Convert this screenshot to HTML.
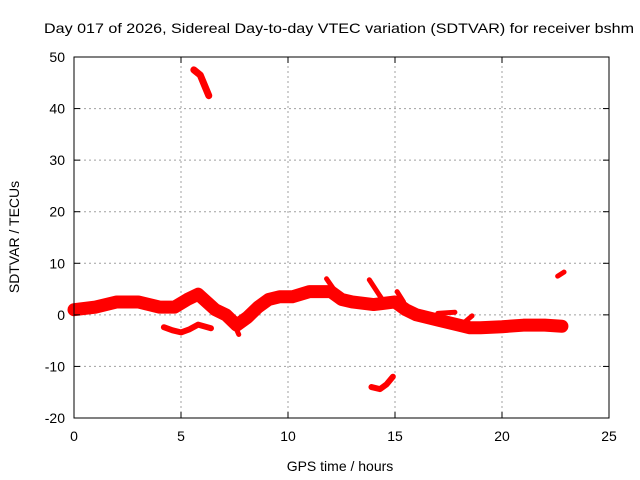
<!DOCTYPE html>
<html><head><meta charset="utf-8"><style>
html,body{margin:0;padding:0;background:#fff;}
svg{display:block;font-family:"Liberation Sans",sans-serif;}
</style></head><body>
<svg id="chart" width="640" height="480">
<rect width="640" height="480" fill="#fff"/>
<g id="grid"></g><g id="series"></g><g id="axes"></g>
<text x="44" y="33" font-size="14" textLength="590" lengthAdjust="spacingAndGlyphs">Day 017 of 2026, Sidereal Day-to-day VTEC variation (SDTVAR) for receiver bshm</text>
<text x="340" y="471" font-size="14" text-anchor="middle">GPS time / hours</text>
<text transform="translate(19,237) rotate(-90)" font-size="14" text-anchor="middle">SDTVAR / TECUs</text>
</svg>
<script>
const xTicks=[0,5,10,15,20,25];
const yTicks=[-20,-10,0,10,20,30,40,50];
const mainTimes=[0,1,2,3,4,4.7,5.3,5.8,6.2,6.6,7.1,7.6,8.1,8.6,9.1,9.6,10.2,11,12,12.5,13,14,15,15.5,16,17,18,18.5,19,20,21,22,22.8];
const mainValues=[1,1.5,2.5,2.5,1.5,1.5,3,4,2.5,1,0,-2,-0.5,1.5,3,3.5,3.5,4.5,4.5,3,2.5,2,2.5,1,0,-1,-2,-2.5,-2.5,-2.3,-2,-2,-2.2];
const upperTimes=[5.6,5.9,6.1,6.3];
const upperValues=[47.5,46.5,44.5,42.5];
const lowerTimes=[4.2,4.6,5,5.4,5.8,6.4];
const lowerValues=[-2.4,-3,-3.4,-2.8,-1.9,-2.6];
const lowTimes=[13.9,14.3,14.6,14.9];
const lowValues=[-14,-14.4,-13.5,-12];
const lateTimes=[22.6,22.9];
const lateValues=[7.5,8.3];
const spikes=[[[11.8,7],[12.3,4]],[[13.8,6.8],[14.4,3]],[[18.2,-1.6],[18.6,-0.2]],[[15.1,4.5],[15.4,2.5]],[[7.4,-1],[7.7,-3.8]],[[17,0.3],[17.8,0.5]]];
const X0=74,X1=609,Y0=418,Y1=57;
const xs=t=>X0+(t/25)*(X1-X0);
const ys=v=>Y0-((v+20)/70)*(Y0-Y1);
const NS="http://www.w3.org/2000/svg";
function mk(tag,attrs,parent){const e=document.createElementNS(NS,tag);for(const k in attrs)e.setAttribute(k,attrs[k]);parent.appendChild(e);return e;}
const grid=document.getElementById('grid'),axes=document.getElementById('axes'),ser=document.getElementById('series');
xTicks.forEach(t=>{
 if(t>0&&t<25){const l=mk('line',{x1:xs(t),x2:xs(t),y1:Y0,y2:Y1,stroke:'#a0a0a0','stroke-dasharray':'2,3'},grid);
 
 }
 mk('line',{x1:xs(t),x2:xs(t),y1:Y0,y2:Y0-6,stroke:'#000'},axes);
 mk('line',{x1:xs(t),x2:xs(t),y1:Y1,y2:Y1+6,stroke:'#000'},axes);
 const tx=mk('text',{x:xs(t),y:Y0+23,'font-size':14,'text-anchor':'middle'},axes);tx.textContent=t;
 
 
});
yTicks.forEach(v=>{
 if(v>-20&&v<50){const l=mk('line',{x1:X0,x2:X1,y1:ys(v),y2:ys(v),stroke:'#a0a0a0','stroke-dasharray':'2,3'},grid);
 
 }
 mk('line',{x1:X0,x2:X0+6,y1:ys(v),y2:ys(v),stroke:'#000'},axes);
 mk('line',{x1:X1,x2:X1-6,y1:ys(v),y2:ys(v),stroke:'#000'},axes);
 const tx=mk('text',{x:X0-9,y:ys(v)+5,'font-size':14,'text-anchor':'end'},axes);tx.textContent=v;
 
 
});
const fr=mk('rect',{x:X0,y:Y1,width:X1-X0,height:Y0-Y1,fill:'none',stroke:'#000'},axes);


function band(ts,vs,w,name){
 const pts=ts.map((t,i)=>xs(t)+','+ys(vs[i])).join(' ');
 const p=mk('polyline',{points:pts,fill:'none',stroke:'#f00','stroke-width':w,'stroke-linejoin':'round','stroke-linecap':'round'},ser);
 
 
}
band(mainTimes,mainValues,13,'main-series');
band(upperTimes,upperValues,7,'upper-series');
band(lowerTimes,lowerValues,6,'lower-series');
band(lowTimes,lowValues,6,'low-series');
band(lateTimes,lateValues,5,'late-series');
spikes.forEach(s=>band(s.map(p=>p[0]),s.map(p=>p[1]),5,'spike-series'));
</script>
</body></html>
